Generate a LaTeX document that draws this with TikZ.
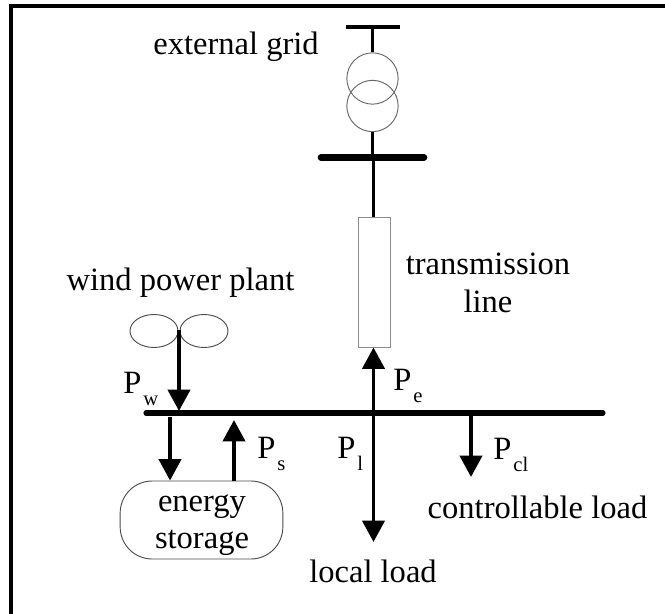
\documentclass[tikz,border=0pt]{standalone}
\usepackage{fontspec}
\setmainfont{Liberation Serif}
\usetikzlibrary{arrows.meta,shapes.geometric}
\tikzset{busbar/.style={line width=3.8pt,line cap=round},
         feeder/.style={line width=2.9pt},
         flow/.style={feeder,-{Triangle[length=16pt,width=16.5pt]}},
         device/.style={draw=black!60,line width=0.7pt,inner sep=0pt},
         winding/.style={device,circle,minimum size=38.5pt},
         blade/.style={device,draw=black!70,ellipse,minimum width=36pt,minimum height=24.75pt},
         lbl/.style={inner sep=0pt,font=\fontsize{24.4pt}{28pt}\selectfont},
         pow/.style={inner sep=0pt,font=\fontsize{24.4pt}{28pt}\selectfont,anchor=base west}}
\newcommand{\pw}[1]{P\kern1.5pt\raisebox{-9pt}{\fontsize{15.5pt}{15.5pt}\selectfont #1}}

\begin{document}
\begin{tikzpicture}[x=0.75pt,y=-0.75pt]
  \useasboundingbox (0,0) rectangle (665,614);
  % frame, open at right and bottom
  \coordinate (framea) at (11,614);
  \coordinate (frameb) at (11,6);
  \coordinate (framec) at (665,6);
  \draw[line width=3pt] (framea)--(frameb)--(framec);
  % grid side
  \coordinate (topl) at (346,27);
  \coordinate (topr) at (400,27);
  \coordinate (topc) at (372.5,27);
  \node[winding] (upper) at (372.5,78.5) {};
  \node[winding] (lower) at (372.5,106) {};
  \coordinate (busl) at (321,157.5);
  \coordinate (busr) at (424,157.5);
  \coordinate (busc) at (373.5,157.5);
  \draw[line width=2.8pt] (topl)--(topr);
  \draw[feeder] (topc)--(upper.north);
  \draw[feeder] (lower.south)--(lower.south|-busc);
  \draw[line width=5pt,line cap=round] (busl)--(busr);
  % line
  \node[device,draw=black!45,minimum width=24.5pt,minimum height=97.5pt] (tline) at (374.5,282) {};
  \draw[feeder] (busc)--(tline.north-|busc);
  % main bus
  \coordinate (mainl) at (146,413);
  \coordinate (mainr) at (603,413);
  \coordinate (maine) at (373.5,413);
  \coordinate (maincl) at (471,413);
  \draw[busbar] (mainl)--(mainr);
  \draw[flow] (maine)--(maine|-tline.south);
  \coordinate (loadtip) at (373.5,542);
  \draw[flow] (maine)--(loadtip);
  \coordinate (cltip) at (471,477);
  \draw[flow] (maincl)--(cltip);
  % storage
  \node[device,draw=black!70,rounded corners=24pt,minimum width=122pt,minimum height=58.5pt] (store) at (201.5,520) {};
  \node[lbl,align=center] (storelbl) at (202,525) {energy\\storage};
  \coordinate (outs) at (170,417);
  \coordinate (ins) at (234,420);
  \draw[flow] (outs)--(outs|-store.north);
  \draw[flow] (ins|-store.north)--(ins);
  % wind
  \node[blade] (bladel) at (154,331) {};
  \node[blade] (blader) at (204,331) {};
  \coordinate (hub) at (179,330);
  \coordinate (windtip) at (179,411);
  \draw[flow] (hub)--(windtip);
  % labels
  \node[lbl] (gridlbl) at (236,47) {external grid};
  \node[lbl,align=center] (linelbl) at (488,283) {transmission\\line};
  \node[lbl] (plantlbl) at (180.5,283) {wind power plant};
  \node[lbl] (cllbl) at (537.5,507) {controllable load};
  \node[lbl] (loadlbl) at (373,571) {local load};
  \node[pow] (pwlbl) at (123,393) {\pw{w}};
  \node[pow] (pslbl) at (257,458) {\pw{s}};
  \node[pow] (pllbl) at (337,458) {\pw{l}};
  \node[pow] (pelbl) at (393,390) {\pw{e}};
  \node[pow] (pcllbl) at (493,459) {\pw{cl}};
\end{tikzpicture}
\end{document}
